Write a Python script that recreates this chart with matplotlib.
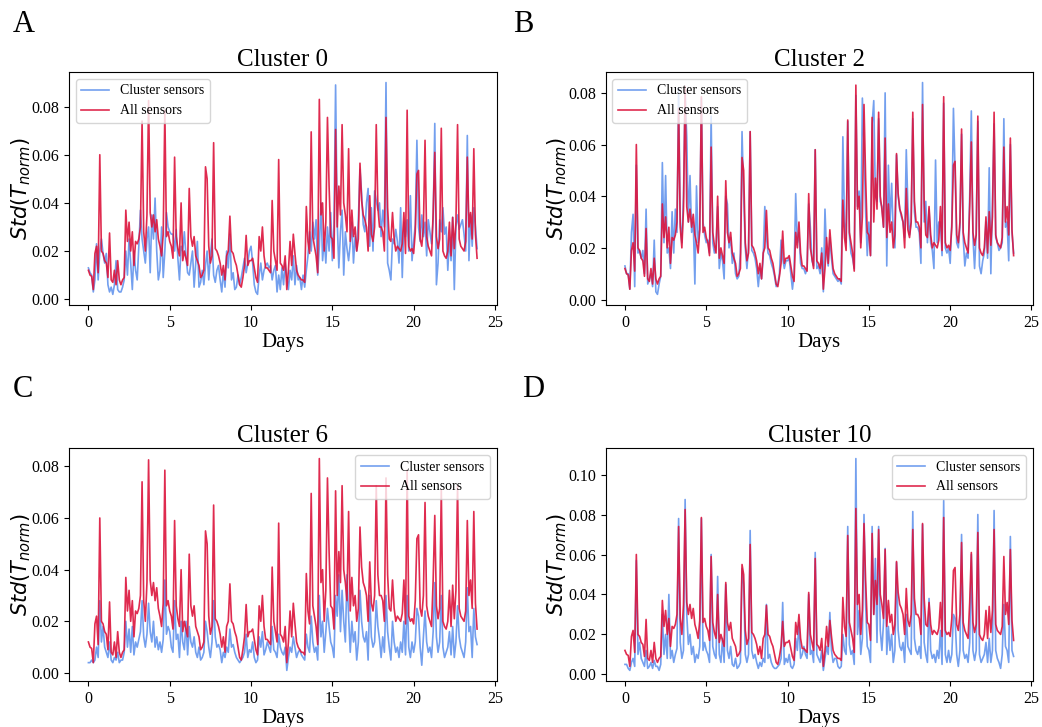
import numpy as np
import matplotlib
matplotlib.use("Agg")
import matplotlib.pyplot as plt

plt.rcParams['font.family'] = 'serif'
plt.rcParams['font.serif'] = ['Liberation Serif', 'DejaVu Serif']
plt.rcParams['mathtext.fontset'] = 'dejavusans'

# samples every 0.1 day, 24 days
days = np.arange(240) / 10.0

all_sensors = [
    0.012, 0.010, 0.0095, 0.004, 0.019, 0.022, 0.011, 0.060, 0.020, 0.019,
    0.016, 0.015, 0.009, 0.0275, 0.008, 0.007, 0.012, 0.006, 0.016, 0.008,
    0.006, 0.008, 0.009, 0.037, 0.024, 0.032, 0.020, 0.028, 0.014, 0.024,
    0.023, 0.025, 0.030, 0.074, 0.028, 0.020, 0.035, 0.0825, 0.036, 0.030,
    0.035, 0.028, 0.033, 0.025, 0.022, 0.018, 0.027, 0.0785, 0.026, 0.028,
    0.024, 0.022, 0.017, 0.059, 0.026, 0.021, 0.018, 0.040, 0.016, 0.020,
    0.017, 0.014, 0.046, 0.026, 0.022, 0.026, 0.018, 0.016, 0.014, 0.009,
    0.010, 0.012, 0.055, 0.050, 0.022, 0.015, 0.018, 0.065, 0.021, 0.020,
    0.018, 0.015, 0.010, 0.014, 0.008, 0.018, 0.020, 0.0345, 0.020, 0.019,
    0.016, 0.014, 0.010, 0.006, 0.005, 0.009, 0.014, 0.0265, 0.014, 0.016,
    0.016, 0.017, 0.013, 0.009, 0.007, 0.026, 0.020, 0.030, 0.018, 0.013,
    0.013, 0.012, 0.011, 0.041, 0.020, 0.016, 0.012, 0.058, 0.015, 0.014,
    0.012, 0.018, 0.004, 0.012, 0.024, 0.014, 0.027, 0.019, 0.012, 0.010,
    0.009, 0.008, 0.008, 0.007, 0.0385, 0.024, 0.019, 0.0695, 0.026, 0.022,
    0.018, 0.011, 0.083, 0.035, 0.040, 0.020, 0.032, 0.0755, 0.047, 0.026,
    0.025, 0.017, 0.0705, 0.030, 0.047, 0.035, 0.0725, 0.040, 0.035, 0.028,
    0.0625, 0.024, 0.037, 0.026, 0.030, 0.020, 0.025, 0.0565, 0.041, 0.035,
    0.033, 0.030, 0.020, 0.043, 0.027, 0.024, 0.030, 0.0725, 0.038, 0.030,
    0.030, 0.028, 0.020, 0.0755, 0.038, 0.025, 0.024, 0.036, 0.025, 0.020,
    0.022, 0.021, 0.020, 0.023, 0.036, 0.019, 0.0785, 0.022, 0.020, 0.021,
    0.019, 0.028, 0.052, 0.0535, 0.025, 0.022, 0.030, 0.066, 0.026, 0.022,
    0.020, 0.018, 0.036, 0.061, 0.026, 0.021, 0.025, 0.071, 0.020, 0.018,
    0.017, 0.020, 0.032, 0.018, 0.034, 0.021, 0.032, 0.0725, 0.025, 0.022,
    0.021, 0.020, 0.024, 0.059, 0.030, 0.036, 0.025, 0.0625, 0.027, 0.017,
]

cluster0 = [
    0.013, 0.011, 0.010, 0.003, 0.008, 0.023, 0.008, 0.020, 0.025, 0.019,
    0.015, 0.019, 0.006, 0.003, 0.005, 0.002, 0.006, 0.016, 0.004, 0.003,
    0.003, 0.005, 0.008, 0.020, 0.010, 0.025, 0.015, 0.004, 0.020, 0.012,
    0.008, 0.022, 0.037, 0.025, 0.020, 0.015, 0.025, 0.030, 0.011, 0.035,
    0.025, 0.042, 0.020, 0.008, 0.012, 0.030, 0.009, 0.020, 0.036, 0.030,
    0.028, 0.027, 0.027, 0.020, 0.029, 0.017, 0.008, 0.022, 0.020, 0.028,
    0.018, 0.011, 0.010, 0.015, 0.020, 0.005, 0.015, 0.024, 0.005, 0.007,
    0.012, 0.006, 0.014, 0.020, 0.008, 0.018, 0.025, 0.010, 0.007, 0.012,
    0.014, 0.008, 0.003, 0.012, 0.005, 0.020, 0.013, 0.027, 0.008, 0.011,
    0.004, 0.005, 0.010, 0.006, 0.009, 0.013, 0.017, 0.011, 0.015, 0.020,
    0.022, 0.015, 0.006, 0.003, 0.002, 0.010, 0.015, 0.008, 0.012, 0.014,
    0.015, 0.013, 0.014, 0.008, 0.012, 0.014, 0.003, 0.010, 0.004, 0.013,
    0.006, 0.015, 0.009, 0.004, 0.012, 0.008, 0.018, 0.006, 0.014, 0.008,
    0.009, 0.004, 0.010, 0.005, 0.012, 0.018, 0.028, 0.020, 0.032, 0.025,
    0.033, 0.010, 0.022, 0.040, 0.016, 0.025, 0.015, 0.030, 0.020, 0.036,
    0.016, 0.031, 0.089, 0.032, 0.013, 0.028, 0.037, 0.010, 0.028, 0.021,
    0.016, 0.023, 0.032, 0.015, 0.026, 0.020, 0.033, 0.054, 0.044, 0.031,
    0.028, 0.040, 0.046, 0.022, 0.038, 0.020, 0.045, 0.041, 0.037, 0.040,
    0.026, 0.037, 0.030, 0.090, 0.015, 0.012, 0.008, 0.025, 0.023, 0.029,
    0.024, 0.015, 0.038, 0.009, 0.032, 0.026, 0.033, 0.020, 0.043, 0.016,
    0.024, 0.031, 0.066, 0.030, 0.024, 0.035, 0.026, 0.032, 0.018, 0.033,
    0.028, 0.023, 0.033, 0.073, 0.006, 0.015, 0.033, 0.028, 0.038, 0.027,
    0.030, 0.012, 0.025, 0.016, 0.034, 0.004, 0.030, 0.035, 0.029, 0.031,
    0.033, 0.027, 0.020, 0.068, 0.016, 0.035, 0.022, 0.038, 0.030, 0.021,
]

cluster2 = [
    0.013, 0.010, 0.010, 0.004, 0.026, 0.033, 0.005, 0.052, 0.018, 0.019,
    0.016, 0.019, 0.010, 0.035, 0.006, 0.008, 0.010, 0.005, 0.023, 0.003,
    0.002, 0.006, 0.009, 0.053, 0.022, 0.048, 0.018, 0.020, 0.012, 0.034,
    0.018, 0.035, 0.026, 0.082, 0.030, 0.022, 0.040, 0.080, 0.063, 0.030,
    0.048, 0.026, 0.030, 0.006, 0.044, 0.022, 0.027, 0.078, 0.030, 0.025,
    0.022, 0.023, 0.018, 0.071, 0.022, 0.018, 0.020, 0.036, 0.012, 0.018,
    0.015, 0.008, 0.040, 0.037, 0.020, 0.024, 0.014, 0.018, 0.010, 0.008,
    0.009, 0.018, 0.065, 0.040, 0.020, 0.012, 0.020, 0.065, 0.019, 0.018,
    0.016, 0.012, 0.005, 0.012, 0.008, 0.016, 0.036, 0.024, 0.018, 0.017,
    0.014, 0.012, 0.009, 0.005, 0.006, 0.010, 0.023, 0.016, 0.012, 0.015,
    0.015, 0.016, 0.010, 0.004, 0.010, 0.041, 0.022, 0.026, 0.014, 0.012,
    0.012, 0.010, 0.012, 0.037, 0.028, 0.015, 0.013, 0.058, 0.012, 0.013,
    0.010, 0.020, 0.003, 0.035, 0.018, 0.013, 0.024, 0.016, 0.010, 0.009,
    0.008, 0.007, 0.008, 0.006, 0.063, 0.030, 0.022, 0.069, 0.025, 0.018,
    0.016, 0.012, 0.079, 0.036, 0.042, 0.022, 0.078, 0.060, 0.034, 0.017,
    0.030, 0.017, 0.068, 0.077, 0.040, 0.038, 0.070, 0.038, 0.036, 0.028,
    0.080, 0.013, 0.052, 0.030, 0.045, 0.025, 0.020, 0.056, 0.040, 0.035,
    0.032, 0.030, 0.024, 0.058, 0.036, 0.025, 0.030, 0.070, 0.034, 0.028,
    0.028, 0.026, 0.014, 0.084, 0.030, 0.038, 0.022, 0.035, 0.022, 0.019,
    0.012, 0.054, 0.022, 0.030, 0.030, 0.017, 0.076, 0.020, 0.018, 0.020,
    0.014, 0.030, 0.074, 0.050, 0.022, 0.020, 0.028, 0.064, 0.024, 0.013,
    0.018, 0.016, 0.040, 0.073, 0.024, 0.012, 0.026, 0.069, 0.013, 0.010,
    0.015, 0.018, 0.030, 0.016, 0.051, 0.010, 0.038, 0.068, 0.024, 0.022,
    0.019, 0.020, 0.022, 0.070, 0.028, 0.030, 0.015, 0.060, 0.026, 0.018,
]

cluster6 = [
    0.004, 0.004, 0.005, 0.004, 0.005, 0.010, 0.006, 0.028, 0.012, 0.018,
    0.010, 0.008, 0.006, 0.012, 0.005, 0.004, 0.006, 0.005, 0.008, 0.004,
    0.005, 0.005, 0.008, 0.020, 0.010, 0.017, 0.008, 0.018, 0.007, 0.012,
    0.010, 0.013, 0.016, 0.028, 0.014, 0.010, 0.015, 0.027, 0.016, 0.012,
    0.020, 0.010, 0.014, 0.009, 0.012, 0.008, 0.013, 0.036, 0.015, 0.018,
    0.016, 0.010, 0.008, 0.028, 0.013, 0.015, 0.006, 0.020, 0.012, 0.009,
    0.020, 0.007, 0.018, 0.012, 0.010, 0.014, 0.008, 0.006, 0.010, 0.005,
    0.006, 0.008, 0.020, 0.016, 0.010, 0.006, 0.012, 0.028, 0.014, 0.010,
    0.011, 0.009, 0.004, 0.008, 0.006, 0.010, 0.008, 0.017, 0.010, 0.011,
    0.008, 0.006, 0.005, 0.004, 0.005, 0.006, 0.008, 0.015, 0.006, 0.009,
    0.008, 0.012, 0.006, 0.004, 0.005, 0.014, 0.010, 0.016, 0.007, 0.009,
    0.012, 0.010, 0.008, 0.018, 0.009, 0.008, 0.006, 0.015, 0.010, 0.008,
    0.007, 0.010, 0.001, 0.006, 0.010, 0.008, 0.014, 0.010, 0.006, 0.008,
    0.009, 0.007, 0.006, 0.005, 0.015, 0.010, 0.008, 0.022, 0.012, 0.008,
    0.010, 0.005, 0.030, 0.014, 0.020, 0.008, 0.016, 0.025, 0.018, 0.012,
    0.010, 0.006, 0.030, 0.022, 0.038, 0.016, 0.032, 0.020, 0.012, 0.038,
    0.022, 0.008, 0.020, 0.012, 0.016, 0.005, 0.012, 0.032, 0.020, 0.014,
    0.012, 0.016, 0.005, 0.030, 0.014, 0.010, 0.012, 0.028, 0.018, 0.013,
    0.006, 0.014, 0.008, 0.030, 0.016, 0.010, 0.005, 0.020, 0.012, 0.008,
    0.010, 0.006, 0.012, 0.008, 0.020, 0.007, 0.030, 0.010, 0.006, 0.012,
    0.008, 0.012, 0.025, 0.022, 0.010, 0.003, 0.014, 0.024, 0.012, 0.008,
    0.010, 0.006, 0.016, 0.035, 0.014, 0.008, 0.012, 0.030, 0.010, 0.006,
    0.008, 0.010, 0.016, 0.007, 0.018, 0.006, 0.012, 0.026, 0.014, 0.010,
    0.008, 0.006, 0.012, 0.033, 0.016, 0.018, 0.006, 0.025, 0.014, 0.011,
]

cluster10 = [
    0.005, 0.005, 0.003, 0.002, 0.006, 0.008, 0.004, 0.057, 0.010, 0.016,
    0.008, 0.006, 0.004, 0.012, 0.003, 0.004, 0.006, 0.003, 0.007, 0.004,
    0.004, 0.002, 0.005, 0.030, 0.010, 0.020, 0.008, 0.040, 0.008, 0.012,
    0.006, 0.010, 0.013, 0.078, 0.016, 0.008, 0.012, 0.0875, 0.030, 0.015,
    0.020, 0.010, 0.014, 0.006, 0.010, 0.008, 0.014, 0.078, 0.012, 0.016,
    0.012, 0.010, 0.006, 0.060, 0.014, 0.010, 0.008, 0.049, 0.010, 0.006,
    0.018, 0.006, 0.045, 0.012, 0.008, 0.014, 0.005, 0.004, 0.008, 0.003,
    0.004, 0.006, 0.053, 0.045, 0.010, 0.006, 0.010, 0.072, 0.012, 0.008,
    0.010, 0.006, 0.003, 0.006, 0.004, 0.008, 0.006, 0.035, 0.008, 0.010,
    0.006, 0.004, 0.003, 0.003, 0.004, 0.005, 0.008, 0.036, 0.005, 0.008,
    0.006, 0.010, 0.004, 0.003, 0.005, 0.018, 0.012, 0.026, 0.008, 0.010,
    0.014, 0.010, 0.008, 0.040, 0.010, 0.012, 0.006, 0.061, 0.010, 0.008,
    0.006, 0.012, 0.002, 0.008, 0.014, 0.010, 0.031, 0.012, 0.006, 0.008,
    0.008, 0.004, 0.003, 0.004, 0.020, 0.012, 0.010, 0.074, 0.015, 0.010,
    0.012, 0.005, 0.108, 0.020, 0.032, 0.010, 0.018, 0.080, 0.035, 0.014,
    0.012, 0.006, 0.074, 0.030, 0.058, 0.016, 0.074, 0.022, 0.012, 0.026,
    0.063, 0.010, 0.024, 0.012, 0.020, 0.006, 0.012, 0.056, 0.022, 0.014,
    0.012, 0.016, 0.006, 0.030, 0.014, 0.012, 0.010, 0.0815, 0.018, 0.012,
    0.010, 0.014, 0.008, 0.075, 0.016, 0.010, 0.006, 0.038, 0.012, 0.008,
    0.010, 0.006, 0.012, 0.008, 0.022, 0.005, 0.087, 0.010, 0.006, 0.012,
    0.006, 0.010, 0.030, 0.028, 0.010, 0.004, 0.012, 0.070, 0.012, 0.008,
    0.010, 0.006, 0.016, 0.060, 0.012, 0.007, 0.012, 0.080, 0.010, 0.006,
    0.008, 0.010, 0.016, 0.006, 0.018, 0.006, 0.012, 0.082, 0.012, 0.008,
    0.006, 0.003, 0.010, 0.035, 0.014, 0.012, 0.006, 0.069, 0.012, 0.009,
]

titles = ['Cluster 0', 'Cluster 2', 'Cluster 6', 'Cluster 10']
letters = ['A', 'B', 'C', 'D']
clusters = [cluster0, cluster2, cluster6, cluster10]
legend_loc = ['upper left', 'upper left', 'upper right', 'upper right']

fig, axes = plt.subplots(2, 2, figsize=(10.42, 7.27), dpi=100)
fig.subplots_adjust(left=0.0662, right=0.9914, top=0.901, bottom=0.0633,
                    wspace=0.255, hspace=0.614)

for ax, title, blue, loc in zip(axes.flat, titles, clusters, legend_loc):
    ax.plot(days, blue, color='cornflowerblue', lw=1.2, alpha=0.9, label='Cluster sensors')
    ax.plot(days, all_sensors, color='crimson', lw=1.2, alpha=0.9, label='All sensors')
    ax.set_title(title, fontsize=18, pad=4)
    ax.set_xlabel('Days', fontsize=15, labelpad=2)
    ax.set_ylabel(r'$Std(T_{norm})$', fontsize=15, labelpad=-1)
    ax.set_xticks([0, 5, 10, 15, 20, 25])
    ax.tick_params(labelsize=11.5)
    ax.legend(loc=loc, fontsize=10)

# panel letters
fig.text(0.0125, 0.956, 'A', fontsize=22)
fig.text(0.492, 0.956, 'B', fontsize=22)
fig.text(0.0125, 0.454, 'C', fontsize=22)
fig.text(0.501, 0.454, 'D', fontsize=22)

fig.savefig('out.png', dpi=100)
